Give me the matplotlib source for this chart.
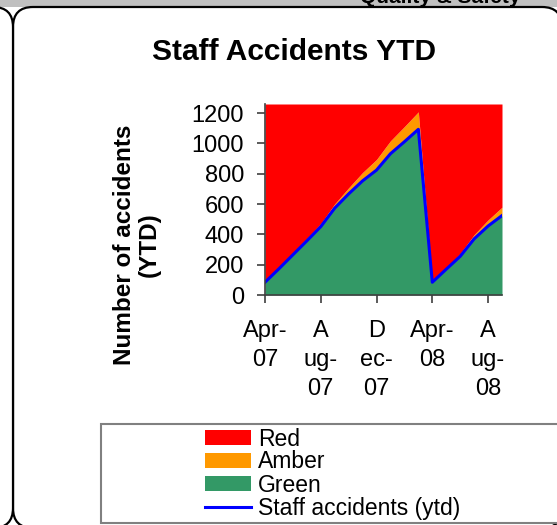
import matplotlib
matplotlib.use("Agg")
import matplotlib.pyplot as plt
from matplotlib.patches import FancyBboxPatch, Rectangle, Patch
from matplotlib.lines import Line2D
import numpy as np

plt.rcParams['font.family'] = ['Liberation Sans', 'DejaVu Sans']

months = ['Apr-07', 'May-07', 'Jun-07', 'Jul-07', 'Aug-07', 'Sep-07', 'Oct-07', 'Nov-07',
          'Dec-07', 'Jan-08', 'Feb-08', 'Mar-08', 'Apr-08', 'May-08', 'Jun-08', 'Jul-08',
          'Aug-08', 'Sep-08']
green = [84, 173, 265, 357, 451, 573, 667, 753, 824, 932, 1011, 1093,
         84, 170, 255, 370, 455, 524]
amber = [6, 9, 12, 16, 20, 28, 40, 55, 70, 85, 100, 115,
         5, 10, 18, 28, 40, 55]
staff_ytd = green
tick_labels = ['Apr-\n07', 'A\nug-\n07', 'D\nec-\n07', 'Apr-\n08', 'A\nug-\n08']
tick_idx = [0, 4, 8, 12, 16]
y_max = 1260
y_ticks = [0, 200, 400, 600, 800, 1000, 1200]

W, H = 557, 525
fig = plt.figure(figsize=(W / 100, H / 100), dpi=100)

# background decoration layer in pixel coordinates
bg = fig.add_axes([0, 0, 1, 1], zorder=0)
bg.set_xlim(0, W)
bg.set_ylim(H, 0)
bg.axis('off')
bg.add_patch(Rectangle((0, 0), W, 7, facecolor='#C0C0C0', edgecolor='none'))
bg.add_patch(FancyBboxPatch((13 + 20, 7 + 20), 562 - 13 - 40, 528 - 7 - 40,
                            boxstyle='round,pad=20', facecolor='white',
                            edgecolor='black', linewidth=1.6))
bg.add_patch(FancyBboxPatch((-200 + 20, 7 + 20), 213 - 40, 528 - 7 - 40,
                            boxstyle='round,pad=20', facecolor='white',
                            edgecolor='black', linewidth=1.6))
bg.add_patch(Rectangle((101, 424), 520, 99, facecolor='white',
                       edgecolor='#808080', linewidth=1.5))
fig.text(520 / W, 1 - 3 / H, 'Quality & Safety', ha='right', va='baseline',
         fontsize=15, fontweight='bold')

# main chart
ax = fig.add_axes([265 / W, 1 - 295 / H, (502 - 265) / W, (295 - 104) / H], zorder=2)
x = np.arange(len(months))
g = np.array(green)
a = np.array(amber)
ax.fill_between(x, 0, g, color='#339966', linewidth=0)
ax.fill_between(x, g, g + a, color='#FF9900', linewidth=0)
ax.fill_between(x, g + a, y_max, color='#FF0000', linewidth=0)
ax.plot(x, staff_ytd, color='#0000FF', linewidth=2.2)
ax.set_xlim(0, len(months) - 1)
ax.set_ylim(0, y_max)
ax.set_yticks(y_ticks)
ax.set_yticklabels([str(v) for v in y_ticks], fontsize=17)
ax.set_xticks(tick_idx)
ax.set_xticklabels(tick_labels, fontsize=17, linespacing=1.42)
for s in ['top', 'right']:
    ax.spines[s].set_visible(False)
for s in ['left', 'bottom']:
    ax.spines[s].set_color('#404040')
    ax.spines[s].set_linewidth(1.2)
ax.tick_params(axis='both', direction='out', length=6, width=1.2, color='#404040')
ax.tick_params(axis='y', pad=9)
ax.tick_params(axis='x', pad=12)

fig.text(294.5 / W, 1 - 52 / H, 'Staff Accidents YTD', ha='center', va='center',
         fontsize=21.5, fontweight='bold')
fig.text(137 / W, 1 - 245 / H, 'Number of accidents\n(YTD)', ha='center', va='center',
         rotation=90, fontsize=17.5, fontweight='bold', multialignment='center',
         linespacing=1.1)

handles = [Patch(facecolor='#FF0000', edgecolor='none'),
           Patch(facecolor='#FF9900', edgecolor='none'),
           Patch(facecolor='#339966', edgecolor='none'),
           Line2D([0], [0], color='#0000FF', linewidth=2.2)]
labels = ['Red', 'Amber', 'Green', 'Staff accidents (ytd)']
leg = fig.legend(handles, labels, loc='center left', bbox_to_anchor=(205 / W, 1 - 473.5 / H),
                 frameon=False, fontsize=16.5, handlelength=2.0, handleheight=0.6,
                 handletextpad=0.3, labelspacing=0.0, borderpad=0, borderaxespad=0)

fig.savefig('out.png', dpi=100)
